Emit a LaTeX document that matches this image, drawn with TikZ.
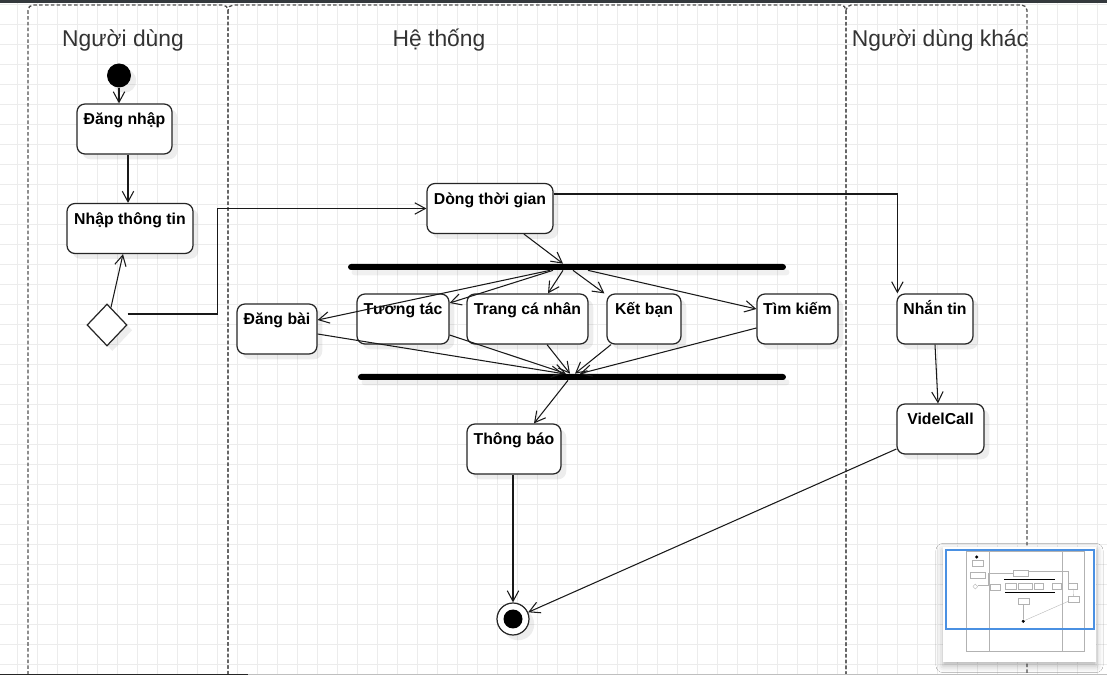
\documentclass[tikz,border=0pt]{standalone}
\usepackage{fontspec}
\setmainfont{Liberation Sans}
\usepackage{tikz}
\usetikzlibrary{arrows.meta,positioning,calc,shapes.geometric,shadows,shadows.blur}
\usepackage{xcolor}
\definecolor{gridgray}{RGB}{236,236,236}
\definecolor{lanegray}{RGB}{51,51,51}
\definecolor{topbar}{RGB}{52,57,61}
\definecolor{mapblue}{RGB}{74,144,226}
\tikzset{
    softshadow/.style={drop shadow={shadow xshift=3pt, shadow yshift=-3pt,
                       fill=black, opacity=0.07}},
    act/.style={draw=black!85, line width=0.7pt, rounded corners=4.5pt,
                fill=white, minimum width=#1, inner xsep=0pt, inner ysep=0pt,
                text height=0.42cm, text depth=0.58cm,
                font=\fontsize{9}{11}\selectfont\bfseries, softshadow},
    syncbar/.style={fill=black, rounded corners=1.7pt, inner sep=0pt,
                    minimum width=#1, minimum height=0.12cm,
                    drop shadow={shadow xshift=2pt, shadow yshift=-3pt,
                                 fill=black, opacity=0.06}},
    lane/.style={draw=lanegray!85, line width=0.75pt,
                 dash pattern=on 2pt off 1.3pt, rounded corners=3pt},
    lanetitle/.style={font=\fontsize{13}{15}\selectfont, text=lanegray},
    flow/.style={draw=black!90, line width=0.6pt,
                 -{Straight Barb[length=6pt,width=6.5pt]}},
}

\begin{document}
\begin{tikzpicture}[x=0.02cm, y=-0.02cm]
    \useasboundingbox (0,0) rectangle (1107,675);
    \fill[white] (0,0) rectangle (1107,675);
    % grid
    \foreach \gx in {17,37,...,1097}
        \draw[gridgray, line width=0.5pt] (\gx,0) -- (\gx,675);
    \foreach \gy in {4,24,...,664}
        \draw[gridgray, line width=0.5pt] (0,\gy) -- (1107,\gy);

    % swimlanes
    \draw[lane] (28,5) rectangle (228,700);
    \draw[lane] (228,5) rectangle (846,700);
    \draw[lane] (846,5) rectangle (1027,700);
    \node[lanetitle] (laneuser) at (123,40) {Người dùng};
    \node[lanetitle] (lanesys) at (439,40) {Hệ thống};
    \node[lanetitle] (laneother) at (940,40) {Người dùng khác};

    % actions
    \node[circle, fill=black, minimum size=0.48cm, inner sep=0pt, softshadow]
        (start) at (119,75.5) {};
    \node[act=1.9cm] (login) at (124.5,129) {Đăng nhập};
    \node[act=2.52cm] (input) at (130,228.5) {Nhập thông tin};
    \node[diamond, draw=black!85, line width=0.7pt, fill=white, inner sep=0pt,
          minimum width=0.8cm, minimum height=0.84cm, softshadow]
        (choice) at (107,325) {};
    \node[act=2.52cm] (timeline) at (490,208.5) {Dòng thời gian};
    \node[syncbar=8.76cm] (fork) at (567,267) {};
    \node[act=1.6cm] (post) at (277,329) {Đăng bài};
    \node[act=1.84cm] (interact) at (403,319) {Tương tác};
    \node[act=2.42cm] (profile) at (527.5,319) {Trang cá nhân};
    \node[act=1.48cm] (friend) at (644,319) {Kết bạn};
    \node[act=1.62cm] (search) at (797.5,319) {Tìm kiếm};
    \node[syncbar=8.56cm] (join) at (572,377) {};
    \node[act=1.88cm] (notify) at (514,449) {Thông báo};
    \node[act=1.52cm] (message) at (935,319) {Nhắn tin};
    \node[act=1.74cm] (video) at (940.5,429) {VidelCall};
    \node[circle, draw=black!85, line width=0.7pt, fill=white,
          minimum size=0.64cm, inner sep=0pt, softshadow,
          path picture={\fill[black] (path picture bounding box.center) circle (0.19cm);}]
        (finish) at (513,619) {};

    % connectors
    \draw[flow] (start) -- (start |- login.north);
    \draw[flow] (login.south -| 128,0) -- (input.north -| 128,0);
    \draw[flow] (choice) -- (input.south -| 123,0);
    \draw[flow] ([yshift=0.22cm]choice.east) -- ++(90,0) |- (timeline.west);
    \draw[flow] ([yshift=0.29cm]timeline.east) -| ([xshift=0.02cm]message.north west);
    \draw[flow] (timeline.south -| 524,0) -- (fork.north -| 563,0);
    \draw[flow] (fork.south -| 550,0) -- ([yshift=0.18cm]post.east);
    \draw[flow] (fork.south -| 553,0) -- ([yshift=0.32cm]interact.east);
    \draw[flow] (fork.south -| 563,0) -- (profile.north -| 548,0);
    \draw[flow] (fork.south -| 573,0) -- ([xshift=-0.04cm]friend.north west);
    \draw[flow] (fork.south -| 588,0) -- ([yshift=0.2cm]search.west);
    \draw[flow] ([yshift=-0.1cm]post.east) -- (join.north -| 563,0);
    \draw[flow] ([yshift=-0.32cm]interact.east) -- (join.north -| 566,0);
    \draw[flow] (profile.south -| 547,0) -- (join.north -| 570,0);
    \draw[flow] (friend.south -| 611,0) -- (join.north -| 575,0);
    \draw[flow] ([yshift=-0.18cm]search.west) -- (join.north -| 580,0);
    \draw[flow] (join.south -| 568,0) -- (notify.north -| 534,0);
    \draw[flow] (notify.south -| finish) -- (finish);
    \draw[flow] (message.south) -- (video.north -| 938,0);
    \draw[flow] ([yshift=-0.4cm]video.west) -- (finish);

    % window chrome
    \fill[topbar] (0,0) rectangle (1107,3.5);
    \draw[black!25, line width=0.8pt] (0,674.3) -- (1107,674.3);
    \draw[black!85, line width=0.8pt] (0,674.3) -- (248,674.3);

    % overview map
    \fill[white, blur shadow={shadow xshift=0pt, shadow yshift=-2pt,
                              shadow opacity=30, shadow blur radius=4pt}]
        (943,547) rectangle (1096,662);
    \begin{scope}[shift={(962.7,548.2)}, scale=0.118,
                  every path/.style={draw=black!30, line width=0.2pt}]
        \draw (28,24) rectangle (228,873);
        \draw (228,24) rectangle (846,873);
        \draw (846,24) rectangle (1027,873);
        \foreach \bx/\by/\bw in {124.5/129/95, 130/228.5/126, 490/208.5/126,
                                 277/329/80, 403/319/92, 527.5/319/121,
                                 644/319/74, 797.5/319/81, 935/319/76,
                                 940.5/429/87, 514/449/94}
            \draw (\bx-\bw/2,\by-25) rectangle (\bx+\bw/2,\by+25);
        \draw[draw=black, line width=0.6pt] (348,267) -- (786,267);
        \draw[draw=black, line width=0.6pt] (358,377) -- (786,377);
        \fill[black] (119,75) circle (12);
        \fill[black] (513,619) circle (12);
        \draw (107,304) -- (127,325) -- (107,346) -- (87,325) -- cycle;
        \draw (553,194) -| (898,294);
        \draw (127,314) -- (217,314) |- (427,209);
        \draw (513,474) -- (513,603);
        \draw (897,449) -- (529,611);
        \draw (936,344) -- (938,404);
    \end{scope}
    \draw[mapblue, line width=0.6pt] (946,550) rectangle (1094,629);
\end{tikzpicture}
\end{document}
